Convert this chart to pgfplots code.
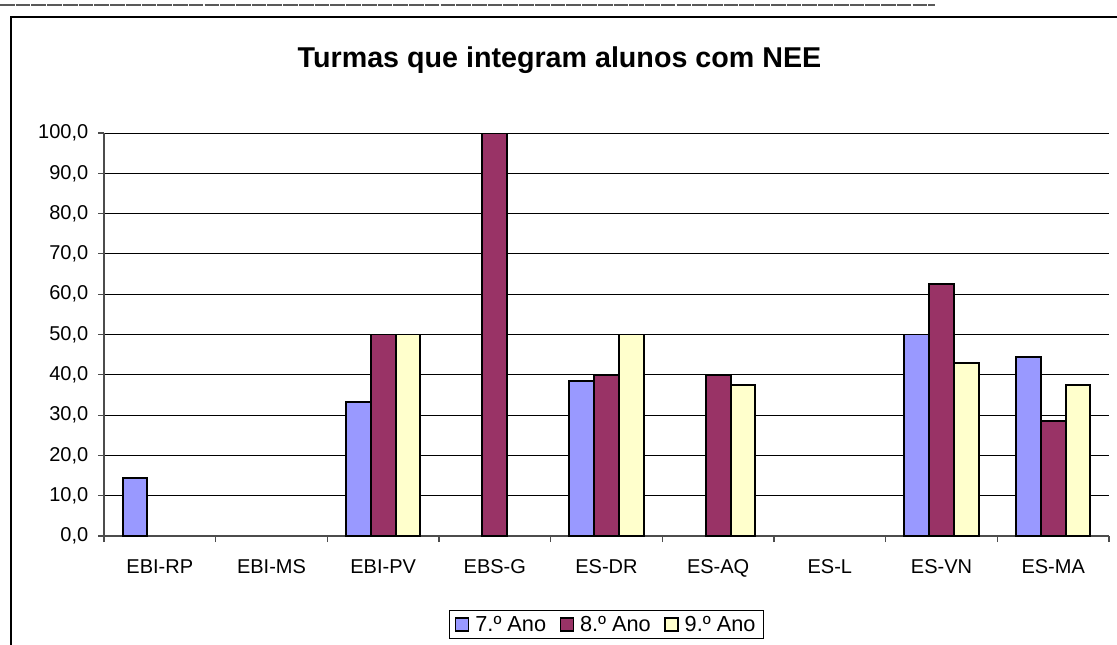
\documentclass[border=0pt]{standalone}
\usepackage{pgfplots}
\pgfplotsset{compat=1.18}
\usepackage{fontspec}
\setmainfont{Liberation Sans}
\definecolor{c7}{HTML}{9999FF}
\definecolor{c8}{HTML}{993366}
\definecolor{c9}{HTML}{FFFFCC}
\begin{document}
\begin{tikzpicture}
\begin{scope}[x=0.75pt,y=0.75pt]
\path[use as bounding box] (0,0) rectangle (1117,644);
\begin{scope}
\clip (0,0) rectangle (1117,644);
\draw[black, line width=1.4pt] (10.7,-20) -- (10.7,626.7) -- (1140,626.7);
\draw[black!65, line width=1.6pt, dash pattern=on 11pt off 0.8pt] (0,639) -- (935,639);
\end{scope}
\node[font=\fontsize{21.5}{25}\selectfont\bfseries] at (559.5,584) {Turmas que integram alunos com NEE};
\end{scope}
\begin{axis}[
  at={(78pt,81pt)}, anchor=south west,
  scale only axis, width=753.75pt, height=302.25pt,
  xmin=-0.5, xmax=8.5, ymin=0, ymax=100,
  axis lines*=left,
  axis line style={black!70, line width=0.8pt},
  ytick={0,10,...,100},
  ymajorgrids, grid style={black, line width=0.75pt},
  xtick={0,...,8},
  xticklabels={EBI-RP,EBI-MS,EBI-PV,EBS-G,ES-DR,ES-AQ,ES-L,ES-VN,ES-MA},
  major x tick style={draw=none},
  minor xtick={-0.5,0.5,...,8.5},
  tick align=outside,
  major tick length=4.5pt, minor tick length=4.5pt,
  tick style={black!70, line width=0.8pt},
  tick label style={font=\fontsize{15}{17}\selectfont},
  xticklabel style={text height=11pt, text depth=0pt, yshift=-9pt},
  yticklabel style={xshift=-3.75pt, /pgf/number format/.cd, fixed, fixed zerofill, precision=1, use comma, assume math mode=true},
  legend style={at={(0.5,-0.2196)}, anchor=center, legend columns=3, draw=black, line width=0.75pt,
    font=\fontsize{16.3}{18}\selectfont, inner xsep=4pt, inner ysep=2pt,
    /tikz/every odd column/.append style={column sep=2.5pt},
    /tikz/every even column/.append style={column sep=8pt}},
  legend image code/.code={\draw[#1,draw=black,line width=1.1pt] (0pt,-4.9pt) rectangle (9.8pt,4.9pt);},
]
\addplot[ybar, bar width=0.2222, bar shift=-0.2222, fill=c7, draw=black, line width=1.45pt]
  coordinates {(0,14.3) (2,33.3) (4,38.5) (7,50) (8,44.4)};
\addlegendentry{7.º Ano}
\addplot[ybar, bar width=0.2222, bar shift=0, fill=c8, draw=black, line width=1.45pt]
  coordinates {(2,50) (3,100) (4,40) (5,40) (7,62.5) (8,28.6)};
\addlegendentry{8.º Ano}
\addplot[ybar, bar width=0.2222, bar shift=0.2222, fill=c9, draw=black, line width=1.45pt]
  coordinates {(2,50) (4,50) (5,37.5) (7,42.9) (8,37.5)};
\addlegendentry{9.º Ano}
\end{axis}
\end{tikzpicture}
\end{document}
